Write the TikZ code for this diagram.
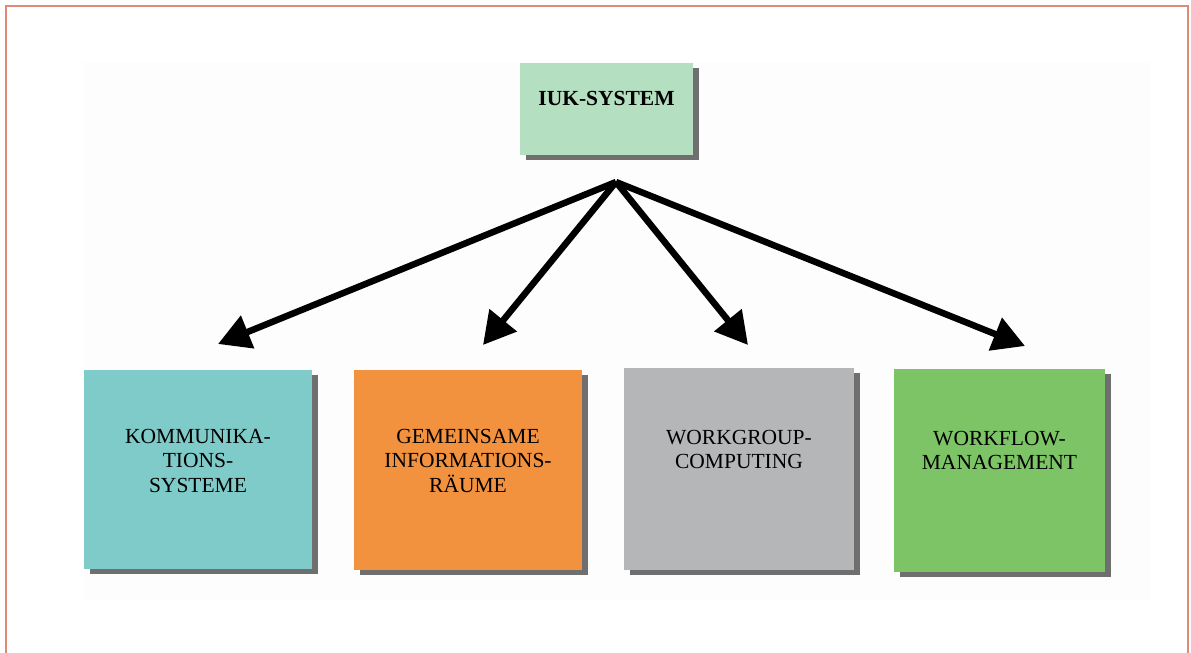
\documentclass[tikz,border=0pt]{standalone}
\usepackage{fontspec}
\setmainfont{Liberation Serif}
\usetikzlibrary{arrows.meta,shadows}
\definecolor{frameC}{HTML}{E08A74}
\definecolor{topC}{HTML}{B4DFC0}
\definecolor{cyanC}{HTML}{7ECBC9}
\definecolor{orangeC}{HTML}{F2923F}
\definecolor{greyC}{HTML}{B4B6B8}
\definecolor{greenC}{HTML}{7DC466}
\definecolor{shadowC}{HTML}{6F6F6F}
\definecolor{bgC}{HTML}{FDFDFD}
\tikzset{
  boxnode/.style={draw=none, inner sep=0pt, outer sep=0pt,
    drop shadow={shadow xshift=6pt, shadow yshift=-5pt, fill=shadowC, opacity=1}},
  boxtext/.style={inner sep=0pt, align=center, anchor=north, text=black,
    font={\fontsize{21.5}{24.5}\selectfont}},
  conn/.style={line width=6.5pt, -{Triangle[length=32pt,width=34pt]}}
}
\begin{document}
\begin{tikzpicture}[x=1pt,y=-1pt]
\useasboundingbox (0,0) rectangle (1191,653);
% frame
\draw[frameC, line width=2pt] (6,660) -- (6,6) -- (1188,6) -- (1188,660);
% faint background
\fill[bgC] (84,62) rectangle (1150,600);
% top box
\node[boxnode, fill=topC, minimum width=173pt, minimum height=92pt] (top) at (606.5,109) {};
\node[inner sep=0pt, anchor=base, font={\fontsize{21.5}{24}\selectfont\bfseries}, text=black] (toptext) at (606.5,105) {IUK-SYSTEM};
% bottom boxes
\node[boxnode, fill=cyanC, minimum width=228pt, minimum height=199pt] (b1) at (198,469.5) {};
\node[boxnode, fill=orangeC, minimum width=228pt, minimum height=200pt] (b2) at (468,470) {};
\node[boxnode, fill=greyC, minimum width=230pt, minimum height=202pt] (b3) at (739,469) {};
\node[boxnode, fill=greenC, minimum width=211pt, minimum height=203pt] (b4) at (999.5,470.5) {};
\node[boxtext] (t1) at (198,429) {KOMMUNIKA-\\TIONS-\\SYSTEME};
\node[boxtext] (t2) at (468,429) {GEMEINSAME\\INFORMATIONS-\\RÄUME};
\node[boxtext] (t3) at (739,430) {WORKGROUP-\\COMPUTING};
\node[boxtext] (t4) at (999.5,431) {WORKFLOW-\\MANAGEMENT};
% connectors
\coordinate (apex) at (616,182);
\coordinate (e1) at (218,344);
\coordinate (e2) at (483,345);
\coordinate (e3) at (748,345);
\coordinate (e4) at (1025,346);
\draw[conn] (apex) -- (e1);
\draw[conn] (apex) -- (e2);
\draw[conn] (apex) -- (e3);
\draw[conn] (apex) -- (e4);
\end{tikzpicture}
\end{document}
